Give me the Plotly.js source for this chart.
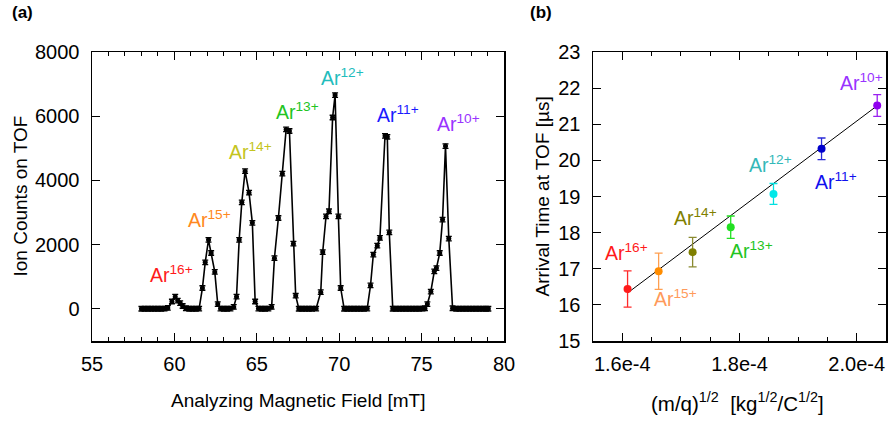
<!DOCTYPE html>
<html>
<head>
<meta charset="utf-8">
<script src="https://cdn.plot.ly/plotly-3.0.1.min.js"></script>
<style>html,body{margin:0;padding:0;background:#fff;}#chart{width:888px;height:421px;}</style>
</head>
<body>
<div id="chart"></div>
<script>
// ---- Panel (a): ion counts vs analyzing magnetic field ----
const fieldMT = [58.0, 58.2, 58.4, 58.6, 58.8, 59.0, 59.2, 59.4, 59.6, 59.85, 60.05, 60.2, 60.35, 60.5, 60.7, 60.9, 61.1, 61.3, 61.5,
  61.7, 61.87, 62.07, 62.23, 62.45, 62.63, 62.8, 63.0, 63.2, 63.4, 63.6,
  63.77, 63.93, 64.09, 64.29, 64.53, 64.73, 64.9, 65.1, 65.3, 65.5, 65.7, 65.9,
  66.07, 66.31, 66.55, 66.78, 66.98, 67.22, 67.36, 67.55, 67.75, 67.95, 68.15, 68.35, 68.6,
  68.88, 69.0, 69.2, 69.38, 69.6, 69.75, 69.95, 70.09, 70.3, 70.5, 70.7, 70.9, 71.1, 71.3, 71.5, 71.7,
  71.9, 72.07, 72.31, 72.47, 72.78, 72.92, 73.04, 73.25, 73.45, 73.65, 73.85, 74.05, 74.25, 74.45, 74.65, 74.85, 75.05, 75.2,
  75.35, 75.56, 75.77, 75.9, 76.1, 76.27, 76.45, 76.65, 76.88, 77.1, 77.3, 77.5, 77.7, 77.9, 78.1, 78.3, 78.5, 78.7, 78.9, 79.05];
const ionCounts = [5, 5, 5, 5, 5, 5, 5, 10, 30, 230, 380, 260, 180, 90, 20, 5, 5, 5, 10,
  650, 1450, 2150, 1740, 1150, 150, 10, 5, 5, 10, 60,
  380, 2150, 3320, 4290, 3620, 2680, 230, 10, 5, 5, 10, 60,
  1580, 2830, 4210, 5590, 5540, 2030, 410, 5, 5, 5, 5, 5, 10,
  520, 1770, 2880, 3040, 5960, 6660, 2880, 650, 5, 5, 5, 5, 5, 5, 5, 10,
  730, 1690, 1970, 2210, 5390, 5360, 2380, 5, 5, 5, 5, 5, 5, 5, 5, 5, 10, 20,
  150, 540, 1170, 1270, 1740, 2780, 5070, 2190, 20, 5, 5, 5, 5, 5, 5, 5, 5, 5, 5, 5];
const countsErr = 70;

// ---- Panel (b): arrival time vs sqrt(m/q) ----
const ionLabels = ["Ar<sup>16+</sup>", "Ar<sup>15+</sup>", "Ar<sup>14+</sup>", "Ar<sup>13+</sup>", "Ar<sup>12+</sup>", "Ar<sup>11+</sup>", "Ar<sup>10+</sup>"];
const sqrtMQ = [1.609e-4, 1.662e-4, 1.720e-4, 1.785e-4, 1.858e-4, 1.940e-4, 2.035e-4];
const arrivalUs = [16.44, 16.93, 17.46, 18.15, 19.07, 20.32, 21.52];
const arrivalErr = [0.50, 0.50, 0.41, 0.31, 0.29, 0.30, 0.30];
const fitX = [1.609e-4, 2.038e-4];
const fitY = [16.33, 21.55];

const markerColors = ["#ff1a1a", "#ff8c00", "#7f7f00", "#22e022", "#00e8e8", "#0000cc", "#8f00ee"];
const errColors = ["#ff2a2a", "#ff9f50", "#8a8a30", "#22e022", "#00e0e0", "#2a2ad8", "#9a20f0"];
const labelColorsA = ["#ff1a1a", "#ff8820", "#c4c420", "#22c422", "#22bcbc", "#1a1aff", "#9933ff"];
const labelColorsB = ["#ff1a1a", "#ff9a5a", "#808000", "#22c422", "#33b8b8", "#1010ee", "#9933ff"];

const FONT = "Liberation Sans, Arial, Helvetica, sans-serif";

const traces = [];
traces.push({
  x: fieldMT, y: ionCounts, type: "scatter", mode: "lines+markers",
  xaxis: "x", yaxis: "y",
  line: {color: "black", width: 1.6},
  marker: {color: "black", size: 5, symbol: "circle"},
  error_y: {type: "constant", value: countsErr, color: "black", thickness: 1.3, width: 3},
  hoverinfo: "x+y"
});
traces.push({
  x: fitX, y: fitY, type: "scatter", mode: "lines",
  xaxis: "x2", yaxis: "y2",
  line: {color: "black", width: 1}
});
for (let i = 0; i < sqrtMQ.length; i++) {
  traces.push({
    x: [sqrtMQ[i]], y: [arrivalUs[i]], type: "scatter", mode: "markers",
    xaxis: "x2", yaxis: "y2",
    marker: {color: markerColors[i], size: 8},
    error_y: {type: "data", array: [arrivalErr[i]], color: errColors[i], thickness: 1.3, width: 4}
  });
}

const W = 888, H = 421;
const px = v => v / W, py = v => 1 - v / H;

const axisCommon = {
  ticks: "inside", ticklen: 8, tickwidth: 1.2, tickcolor: "black",
  showline: true, linecolor: "black", linewidth: 1.5, mirror: "ticks",
  showgrid: false, zeroline: false,
  tickfont: {family: FONT, size: 20, color: "black"}
};

const annotations = [];
// panel (a) labels
const aPos = [[59.8, 1094], [62.1, 2800], [64.6, 4906], [67.45, 6156], [70.18, 7219], [73.55, 6072], [77.22, 5790]];
for (let i = 0; i < ionLabels.length; i++) {
  annotations.push({x: aPos[i][0], y: aPos[i][1], xref: "x", yref: "y", text: ionLabels[i], showarrow: false,
    xanchor: "center", yanchor: "middle", font: {family: FONT, size: 19.5, color: labelColorsA[i]}});
}
// panel (b) labels
const bPos = [[1.6077e-4, 17.47], [1.690e-4, 16.18], [1.725e-4, 18.44], [1.820e-4, 17.53], [1.8527e-4, 19.89], [1.9653e-4, 19.42], [2.009e-4, 22.17]];
for (let i = 0; i < ionLabels.length; i++) {
  annotations.push({x: bPos[i][0], y: bPos[i][1], xref: "x2", yref: "y2", text: ionLabels[i], showarrow: false,
    xanchor: "center", yanchor: "middle", font: {family: FONT, size: 19.5, color: labelColorsB[i]}});
}
// titles
const titleFont = {family: FONT, size: 19, color: "black"};
annotations.push({x: px(20), y: py(196.5), xref: "paper", yref: "paper", text: "Ion Counts on TOF", textangle: -90, showarrow: false, xanchor: "center", yanchor: "middle", font: titleFont});
annotations.push({x: px(298), y: py(400), xref: "paper", yref: "paper", text: "Analyzing Magnetic Field [mT]", showarrow: false, xanchor: "center", yanchor: "middle", font: titleFont});
annotations.push({x: px(542), y: py(196.5), xref: "paper", yref: "paper", text: "Arrival Time at TOF [µs]", textangle: -90, showarrow: false, xanchor: "center", yanchor: "middle", font: titleFont});
annotations.push({x: px(737.5), y: py(402), xref: "paper", yref: "paper", text: "(m/q)<sup>1/2</sup>\u00a0\u00a0[kg<sup>1/2</sup>/C<sup>1/2</sup>]", showarrow: false, xanchor: "center", yanchor: "middle", font: {family: FONT, size: 20.5, color: "black"}});
annotations.push({x: px(22), y: py(13), xref: "paper", yref: "paper", text: "<b>(a)</b>", showarrow: false, xanchor: "center", yanchor: "middle", font: {family: FONT, size: 17, color: "black"}});
annotations.push({x: px(541), y: py(13), xref: "paper", yref: "paper", text: "<b>(b)</b>", showarrow: false, xanchor: "center", yanchor: "middle", font: {family: FONT, size: 17, color: "black"}});

const layout = {
  width: W, height: H,
  margin: {l: 0, r: 0, t: 0, b: 0},
  paper_bgcolor: "white", plot_bgcolor: "white",
  showlegend: false,
  font: {family: FONT, color: "black"},
  xaxis: Object.assign({}, axisCommon, {
    domain: [px(92), px(504)], range: [55, 80], tickmode: "linear", tick0: 55, dtick: 5, anchor: "y",
    ticklabelstandoff: 4,
    minor: {tickmode: "linear", tick0: 55, dtick: 1, ticks: "inside", ticklen: 4, tickwidth: 1, tickcolor: "black", showgrid: false}
  }),
  yaxis: Object.assign({}, axisCommon, {
    domain: [1 - 341 / H, 1 - 52 / H], range: [-1000, 8000], tickvals: [0, 2000, 4000, 6000, 8000], anchor: "x",
    ticklabelstandoff: 7
  }),
  xaxis2: Object.assign({}, axisCommon, {
    domain: [px(593), px(886)], range: [1.55e-4, 2.05e-4], tickmode: "array",
    tickvals: [1.6e-4, 1.8e-4, 2.0e-4], ticktext: ["1.6e-4", "1.8e-4", "2.0e-4"], anchor: "y2",
    ticklabelstandoff: 4,
    minor: {tickmode: "linear", tick0: 1.55e-4, dtick: 0.05e-4, ticks: "inside", ticklen: 4, tickwidth: 1, tickcolor: "black", showgrid: false}
  }),
  yaxis2: Object.assign({}, axisCommon, {
    domain: [1 - 341 / H, 1 - 52 / H], range: [15, 23], tickmode: "linear", tick0: 15, dtick: 1, anchor: "x2",
    ticklabelstandoff: 7
  }),
  annotations: annotations
};

Plotly.newPlot("chart", traces, layout, {displayModeBar: false, staticPlot: true});
</script>
</body>
</html>
